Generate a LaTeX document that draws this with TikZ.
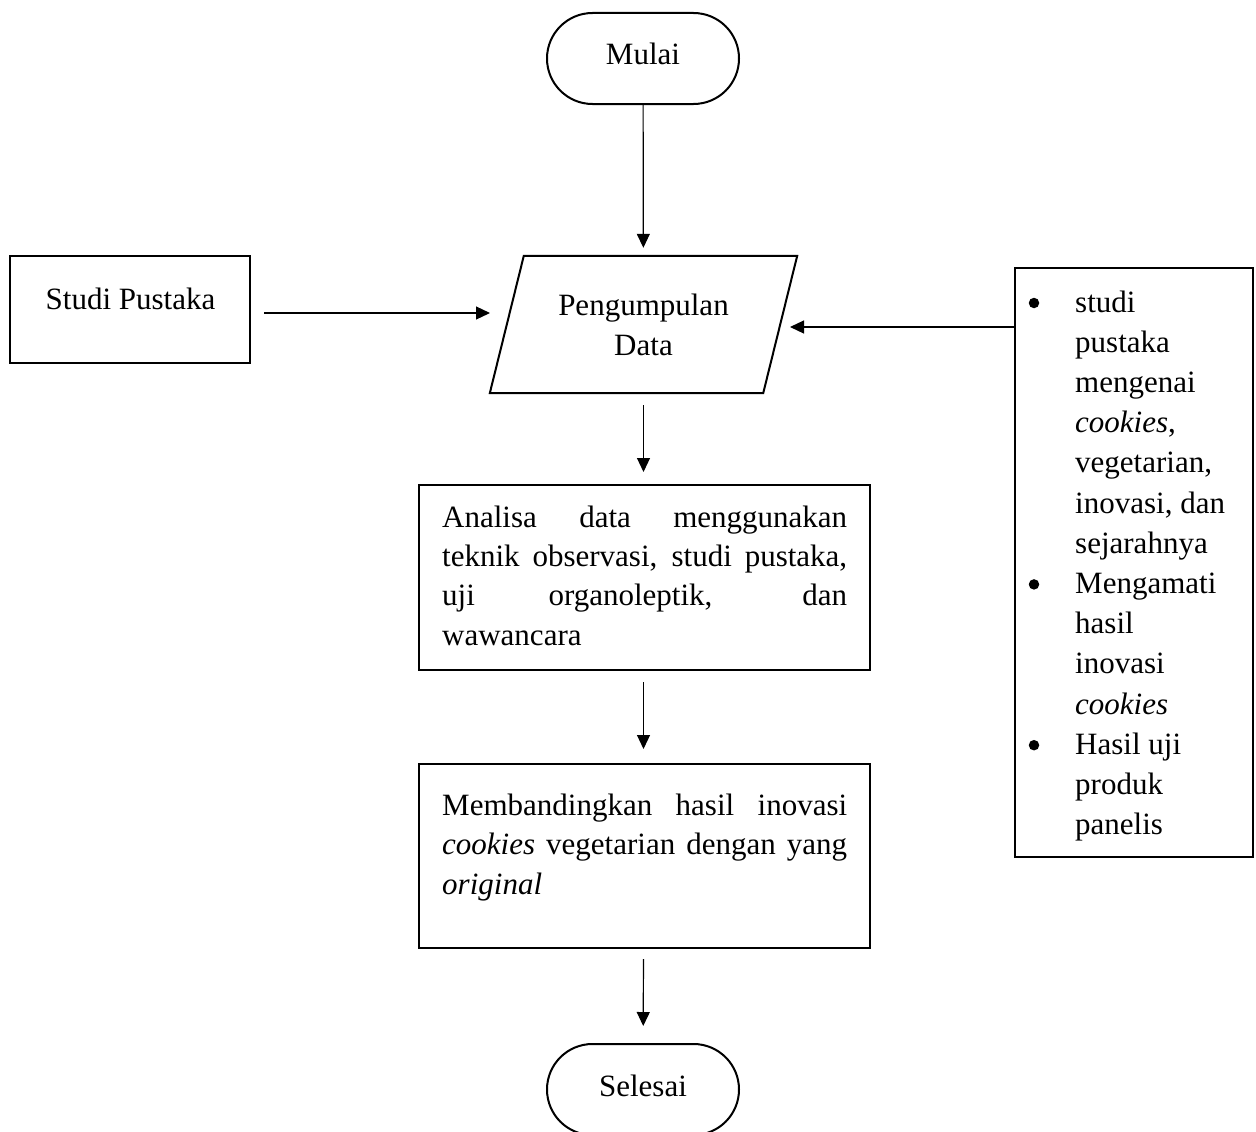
\documentclass[tikz,border=0pt]{standalone}
\usepackage{fontspec}
\setmainfont{Liberation Serif}
\usetikzlibrary{arrows.meta,shapes.misc}
\begin{document}
\begin{tikzpicture}[x=1pt,y=-1pt,
  every node/.style={font=\fontsize{31}{40.2}\selectfont, inner sep=0pt},
  box/.style={draw, line width=2pt, rectangle},
  term/.style={draw, line width=2pt, rounded rectangle, minimum width=192pt, minimum height=91pt, text height=21pt, text depth=8pt},
  arr/.style={line width=1.2pt, -{Triangle[length=14pt,width=13pt]}},
  dot/.style={circle, fill=black, minimum size=10.5pt},
]
\path[use as bounding box, fill=white] (0,0) rectangle (1256,1132);
\clip (0,0) rectangle (1256,1132);

% terminators
\node[term, anchor=base] (start) at (643,65) {Mulai};
\node[term] (end) at (643,1089.5) {Selesai};

% input/output (parallelogram)
\node[minimum height=137pt, minimum width=307pt, align=center]
      (collect) at (643.5,324.5) {Pengumpulan\\Data};
\draw[line width=2pt, line join=miter]
  ([xshift=34pt]collect.north west) -- (collect.north east)
  -- ([xshift=-34pt]collect.south east) -- (collect.south west) -- cycle;

% left box
\node[box, minimum width=240pt, minimum height=107pt] (studi) at (130,309.5) {};
\node[anchor=base] (studiT) at (130.5,309) {Studi Pustaka};

% process boxes
\node[box, minimum width=451pt, minimum height=185pt] (analisa) at (644.5,577.5) {};
\node[anchor=base west] (analisaT) at (442,527) {\parbox[t]{405pt}{\baselineskip=39.4pt
  Analisa data menggunakan\linebreak teknik observasi, studi pustaka,\linebreak uji organoleptik, dan\linebreak wawancara}};

\node[box, minimum width=451pt, minimum height=184pt] (banding) at (644.5,856) {};
\node[anchor=base west] (bandingT) at (442,815) {\parbox[t]{405pt}{\baselineskip=39.5pt
  Membandingkan hasil inovasi\linebreak \textit{cookies} vegetarian dengan yang\linebreak \textit{original}}};

% right box
\node[box, minimum width=238pt, minimum height=589pt] (info) at (1134,562.5) {};
\node[anchor=base west] (infoT) at (1075,312) {\parbox[t]{175pt}{studi\\pustaka\\mengenai\\\textit{cookies},\\vegetarian,\\inovasi, dan\\sejarahnya\\Mengamati\\hasil\\inovasi\\\textit{cookies}\\Hasil uji\\produk\\panelis}};
\node[dot] (b1) at (1034,303) {};
\node[dot] (b2) at (1034,584.4) {};
\node[dot] (b3) at (1034,745.2) {};

% connectors
\coordinate (inL) at (490,313);
\coordinate (inR) at (790,327);
\draw[arr, shorten >=8pt] (start) -- (collect);
\draw[arr, shorten <=13pt] (studi.east |- inL) -- (inL);
\draw[arr] (info.west |- inR) -- (inR);
\draw[arr, shorten <=12pt, shorten >=12pt] (collect) -- (collect |- analisa.north);
\draw[arr, shorten <=11pt, shorten >=14pt] (collect |- analisa.south) -- (collect |- banding.north);
\draw[arr, shorten <=10pt, shorten >=17pt] (collect |- banding.south) -- (end);
\end{tikzpicture}
\end{document}
